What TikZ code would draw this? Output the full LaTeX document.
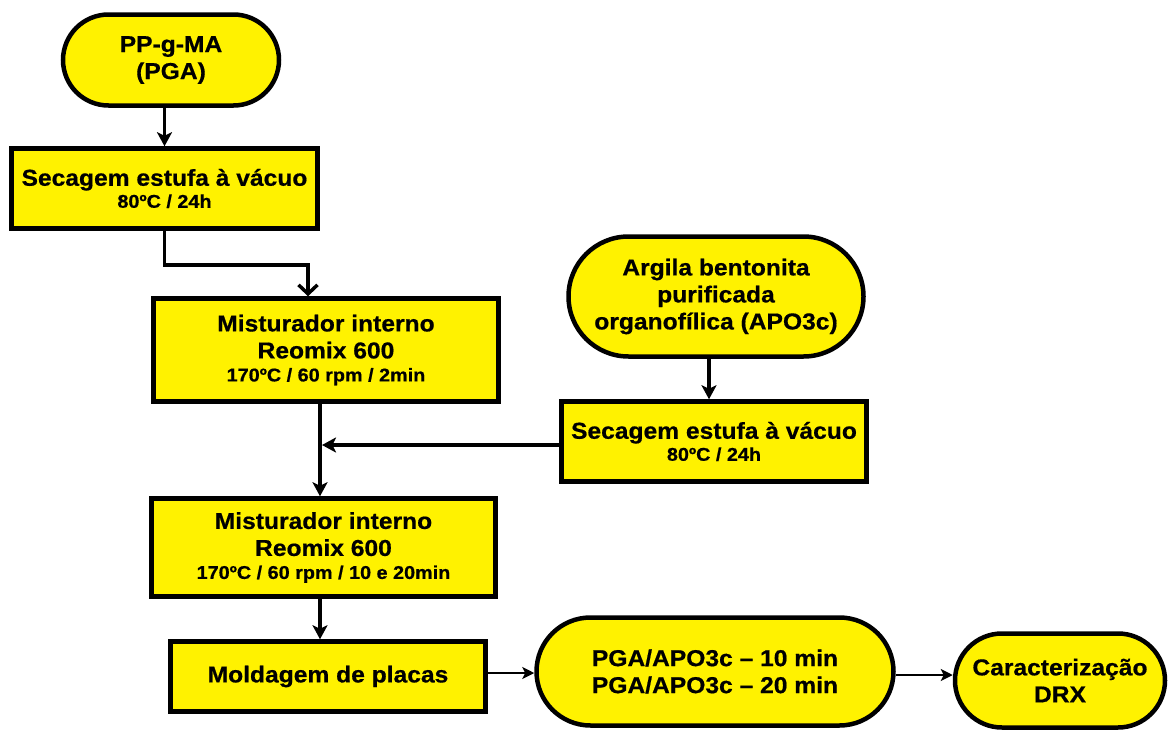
\documentclass[tikz,border=0pt]{standalone}
\usepackage{fontspec}
\newfontfamily\lsans{Liberation Sans}[FakeStretch=1.07, FakeBold=0.6, Ligatures=TeX]
\usetikzlibrary{shapes.misc,arrows.meta}
\newcommand\smtxt{\fontsize{18.5}{21}\selectfont}
\begin{document}
\begin{tikzpicture}[x=1pt,y=-1pt,
  base/.style={draw=black, fill=yellow, line width=4.5pt, inner sep=0pt, align=center,
    font=\lsans\bfseries\fontsize{23}{27}\selectfont},
  boxnode/.style={base, rectangle},
  pill/.style={base, rounded rectangle},
  arr/.style={line width=3.5pt, -{Stealth[length=14pt,width=15pt,inset=3.5pt]}},
  thinarr/.style={line width=2.8pt, -{Stealth[length=12pt,width=12pt,inset=3pt]}},
  barb/.style={line width=3.5pt, -{Straight Barb[length=9pt,width=19pt,line width=3.5pt]}}]
\useasboundingbox (0,0) rectangle (1168,731);

\node[pill, minimum width=216, minimum height=91] (pgma) at (171,60) {PP-g-MA\\(PGA)};
\node[boxnode, minimum width=306, minimum height=80] (sec1) at (164.5,188.5)
  {Secagem estufa à vácuo\\[-5pt]{\smtxt 80ºC / 24h}};
\node[boxnode, minimum width=345, minimum height=103] (mix1) at (326,350)
  {Misturador interno\\Reomix 600\\[-4pt]{\smtxt 170ºC / 60 rpm / 2min}};
\node[pill, minimum width=295, minimum height=120] (argila) at (716,296.5)
  {Argila bentonita\\purificada\\organofílica (APO3c)};
\node[boxnode, minimum width=305, minimum height=80] (sec2) at (714,441.5)
  {Secagem estufa à vácuo\\[-5pt]{\smtxt 80ºC / 24h}};
\node[boxnode, minimum width=344, minimum height=98] (mix2) at (323.5,547.5)
  {Misturador interno\\Reomix 600\\[-4pt]{\smtxt 170ºC / 60 rpm / 10 e 20min}};
\node[boxnode, minimum width=315, minimum height=70] (mold) at (328,676.5)
  {Moldagem de placas};
\node[pill, minimum width=357, minimum height=108] (pga) at (715,671.5)
  {PGA/APO3c – 10 min\\PGA/APO3c – 20 min};
\node[pill, minimum width=210, minimum height=94] (drx) at (1060,680.5)
  {Caracterização\\DRX};

\coordinate (e) at (308,265);
\coordinate (j) at (322,445);
\coordinate (jx) at (320,445);
\coordinate (ax) at (709,0);
\coordinate (ay) at (0,675);
\coordinate (my) at (0,673);

\draw[arr] (pgma.south -| sec1.north) -- (sec1.north);
\draw[barb] (sec1.south) |- (e) -- (mix1.north -| e);
\draw[arr] (mix1.south -| jx) -- (mix2.north -| jx);
\draw[arr] (argila.south -| ax) -- (sec2.north -| ax);
\draw[arr] (sec2.west |- j) -- (j);
\draw[arr] (mix2.south -| jx) -- (mold.north -| jx);
\draw[thinarr] (mold.east |- my) -- (pga.west |- my);
\draw[thinarr] (pga.east |- ay) -- (drx.west |- ay);
\end{tikzpicture}
\end{document}
